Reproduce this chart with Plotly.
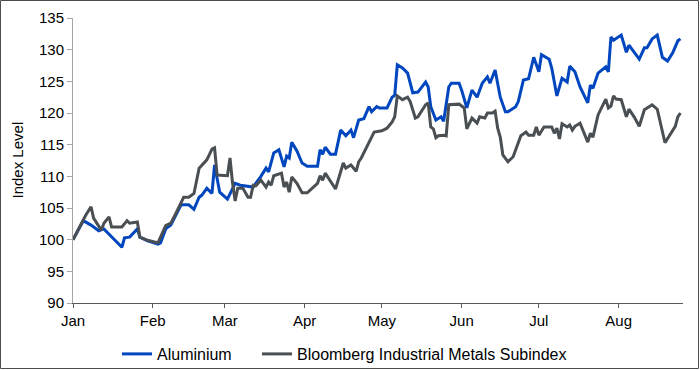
import plotly.graph_objects as go
import pandas as pd

# Days since 1 Jan 2021 and index levels (rebased to 100)
alu_days = [0, 4, 7, 10, 12, 14, 19, 20, 22, 25, 26, 29, 33, 34, 36, 38, 40, 42, 45, 47, 49, 50, 52, 54, 55, 57, 60,
            63, 65, 70, 73, 74, 75, 76, 78, 80, 82, 83, 84, 85, 87, 89, 91, 95, 96, 97, 98, 100, 102, 104, 106, 108,
            109, 111, 113, 115, 116, 118, 119, 122, 124, 125, 126, 128, 130, 132, 134, 137, 138, 139, 141, 143, 144,
            146, 147, 150, 151, 153, 155, 157, 159, 161, 162, 164, 165, 166, 168, 169, 172, 173, 175, 177, 179, 181,
            182, 185, 186, 188, 190, 192, 193, 195, 197, 200, 201, 202, 204, 207, 208, 209, 210, 213, 215, 216, 218,
            220, 222, 223, 225, 227, 229, 231, 233, 235, 236]
alu_vals = [100.0, 103.0, 102.3, 101.4, 101.7, 100.9, 98.8, 100.3, 100.4, 101.7, 100.4, 99.8, 99.3, 99.5, 101.7,
            102.3, 104.0, 105.5, 105.5, 104.8, 106.7, 107.0, 108.1, 107.3, 111.8, 107.5, 106.4,
            108.9, 108.6, 108.3, 110.0, 110.7, 111.3, 110.7, 113.7, 114.2, 111.5, 113.2, 112.9, 115.4, 114.0, 112.1,
            111.6, 111.6, 114.2, 113.5, 114.6, 113.5, 113.5, 117.3, 116.4, 117.3,
            116.1, 118.9, 119.1, 121.0, 120.2, 121.0, 120.8, 120.8, 122.5, 122.8, 127.6, 127.1, 126.3, 123.2, 123.3,
            124.9, 124.1, 121.0, 118.9, 119.4, 118.7,
            124.1, 124.7, 124.7, 123.6, 120.8, 123.6, 122.5, 124.7, 125.7, 124.7, 126.8, 124.7, 122.5, 120.2, 120.2,
            121.0, 121.8, 125.2, 125.4, 128.8, 126.5,
            129.2, 128.5, 127.1, 122.7, 125.5, 124.9, 127.4, 126.5, 124.1, 121.6, 124.4, 123.9, 126.3, 127.3, 126.5,
            132.0, 131.5, 132.3, 129.6, 130.7, 129.6,
            128.5, 130.3, 130.3, 131.7, 132.3, 128.8, 128.2, 129.5, 131.4, 131.7]

bbg_days = [0, 5, 7, 8, 11, 12, 14, 15, 19, 21, 22, 25, 26, 29, 32, 33, 36, 38, 40, 42, 43, 45, 47, 49, 52, 54, 55,
            56, 60, 61, 62, 63, 64, 66, 68, 69, 70, 71, 73, 75, 76, 77, 78, 81, 82, 83, 84, 85, 87, 89, 91, 95, 96,
            97, 98, 102, 103, 105, 106, 108, 110, 111, 112, 114, 117, 120, 122, 124, 125, 126, 128, 130, 131, 133,
            134, 137, 138, 139, 140, 141, 142, 144, 145, 146, 150, 152, 153, 155, 157, 158, 160, 161, 163, 164, 165,
            166, 167, 169, 171, 172, 174, 176, 177, 179, 180, 181, 183, 186, 187, 188, 189, 190, 192, 193, 194, 195,
            197, 200, 201, 202, 204, 207, 208, 209, 210, 211, 213, 215, 216, 218, 220, 222, 223, 225, 227, 230, 234,
            235, 236]
bbg_vals = [100.0, 103.9, 105.2, 103.4, 101.5, 102.6, 103.6, 102.0, 102.0, 103.0, 102.6, 102.8, 100.4, 99.9, 99.6,
            99.5, 102.2, 102.6, 104.2, 105.9, 106.7, 106.7, 107.3, 111.3, 112.6, 114.3, 114.5,
            110.2, 110.1, 112.9, 108.9, 106.1, 108.1, 108.1, 106.7, 106.7, 108.6, 108.5, 109.4, 108.3, 109.1, 108.6,
            110.1, 110.5, 108.3, 109.1, 107.5, 109.9, 108.9, 107.4, 107.4, 108.9, 110.1,
            109.4, 110.5, 108.0, 109.3, 112.1, 111.3, 111.8, 110.8, 112.3, 112.9, 114.6, 117.0, 117.2, 117.6, 118.6,
            119.4, 122.7, 122.1, 122.5, 121.8, 119.2,
            119.4, 121.3, 121.6, 117.8, 117.5, 116.1, 116.4, 116.5, 116.4, 121.3, 121.4, 120.8, 117.5, 119.2, 118.4,
            119.4, 119.2, 120.0, 120.0, 120.3, 117.6,
            116.2, 113.4, 112.3, 113.1, 114.2, 116.4, 117.0, 116.5, 116.5, 117.8, 116.5, 117.8, 117.8, 116.8, 117.6,
            115.9, 118.3, 117.8, 118.1, 117.3, 117.9,
            118.4, 115.4, 116.8, 116.2, 119.7, 122.2, 120.8, 121.1, 122.7, 122.2, 122.1, 119.4, 120.6, 119.4, 117.9,
            120.5, 120.8, 121.3, 120.6, 115.3, 117.9,
            119.4, 120.0]

month_ticks = ["2021-01-01", "2021-02-01", "2021-03-01", "2021-04-01", "2021-05-01", "2021-06-01",
               "2021-07-01", "2021-08-01"]
month_labels = ["Jan", "Feb", "Mar", "Apr", "May", "Jun", "Jul", "Aug"]
y_ticks = [90, 95, 100, 105, 110, 115, 120, 125, 130, 135]

start = pd.Timestamp("2021-01-01")
alu_dates = start + pd.to_timedelta(alu_days, unit="D")
bbg_dates = start + pd.to_timedelta(bbg_days, unit="D")

FONT = "Liberation Sans, Arial, sans-serif"
W, H = 700, 370
L, R, T, B = 73, 17, 18, 67

fig = go.Figure()
fig.add_trace(go.Scatter(x=alu_dates, y=alu_vals, mode="lines", name="Aluminium",
                         line=dict(color="#0046BE", width=3), legend="legend"))
fig.add_trace(go.Scatter(x=bbg_dates, y=bbg_vals, mode="lines", name="Bloomberg Industrial Metals Subindex",
                         line=dict(color="#4A4F53", width=3), legend="legend2"))

pw = W - L - R
ph = H - T - B
leg_common = dict(orientation="h", xref="container", yref="container", xanchor="left",
                  y=1 - 354 / H, yanchor="middle", bgcolor="rgba(0,0,0,0)",
                  font=dict(size=16), itemwidth=30)
fig.update_layout(
    width=W, height=H,
    margin=dict(l=L, r=R, t=T, b=B, autoexpand=False),
    paper_bgcolor="white", plot_bgcolor="white",
    font=dict(family=FONT, size=15, color="black"),
    showlegend=True,
    legend=dict(x=(123 - 6) / W, **leg_common),
    legend2=dict(x=(263 - 6) / W, **leg_common),
    xaxis=dict(range=[start, start + pd.Timedelta(days=237)],
               tickvals=pd.to_datetime(month_ticks), ticktext=month_labels,
               showgrid=False, zeroline=False, showline=True, linecolor="#595959", linewidth=1,
               ticks="outside", ticklen=4, tickcolor="#595959", tickfont=dict(size=15)),
    yaxis=dict(range=[90, 135], tickvals=y_ticks, ticktext=[str(v) for v in y_ticks],
               showgrid=False, zeroline=False, showline=True, linecolor="#A6A6A6", linewidth=1,
               ticks="outside", ticklen=5, tickcolor="#A6A6A6", tickfont=dict(size=15)),
    annotations=[dict(text="Index Level", x=(17 - L) / pw, y=0.5, xref="paper", yref="paper",
                      textangle=-90, showarrow=False, font=dict(size=15), xanchor="center", yanchor="middle")],
    shapes=[dict(type="rect", xref="paper", yref="paper",
                 x0=(0.5 - L) / pw, x1=(W - 1.5 - L) / pw,
                 y0=-(B - 1.5) / ph, y1=1 + (T - 0.5) / ph,
                 line=dict(color="#4D4D4D", width=1), fillcolor="rgba(0,0,0,0)", layer="above")],
)

fig.write_html("out.html", config={"displayModeBar": False},
               post_script="document.body.style.margin='0';")
